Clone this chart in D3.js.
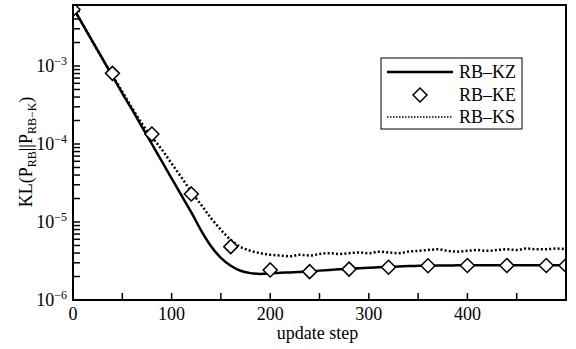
<!DOCTYPE html>
<html>
<head>
<meta charset="utf-8">
<script src="https://cdn.jsdelivr.net/npm/d3@7"></script>
<style>
  body { margin: 0; background: #fff; }
  svg { display: block; font-family: "Liberation Serif", "Times New Roman", serif; }
</style>
</head>
<body>
<div id="chart"></div>
<script>
// update steps for the two curves
const steps = [0, 10, 20, 30, 40, 50, 60, 70, 80, 90, 100, 110, 120, 130, 140, 150, 160, 170, 180, 190,
  200, 210, 220, 230, 240, 250, 260, 270, 280, 290, 300, 310, 320, 330, 340, 350, 360, 370, 380, 390,
  400, 410, 420, 430, 440, 450, 460, 470, 480, 490, 500];

// RB-KZ (solid)
const kzValues = [5.62e-3, 3.39e-3, 2.04e-3, 1.23e-3, 7.41e-4, 4.47e-4, 2.75e-4, 1.66e-4, 1.0e-4, 6.03e-5,
  3.63e-5, 2.19e-5, 1.33e-5, 7.76e-6, 4.90e-6, 3.47e-6, 2.75e-6, 2.37e-6, 2.21e-6, 2.16e-6,
  2.19e-6, 2.24e-6, 2.26e-6, 2.29e-6, 2.32e-6, 2.38e-6, 2.43e-6, 2.47e-6, 2.51e-6, 2.56e-6,
  2.60e-6, 2.63e-6, 2.66e-6, 2.69e-6, 2.72e-6, 2.74e-6, 2.75e-6, 2.76e-6, 2.77e-6, 2.78e-6,
  2.79e-6, 2.79e-6, 2.79e-6, 2.79e-6, 2.79e-6, 2.79e-6, 2.79e-6, 2.79e-6, 2.79e-6, 2.79e-6, 2.79e-6];

// RB-KS (dotted)
const ksValues = [5.62e-3, 3.39e-3, 2.04e-3, 1.23e-3, 7.59e-4, 4.68e-4, 2.88e-4, 1.82e-4, 1.23e-4, 8.51e-5,
  5.62e-5, 3.72e-5, 2.45e-5, 1.66e-5, 1.12e-5, 7.94e-6, 5.89e-6, 4.79e-6, 4.27e-6, 3.98e-6,
  3.80e-6, 3.72e-6, 3.63e-6, 3.80e-6, 3.72e-6, 3.89e-6, 3.98e-6, 3.89e-6, 3.98e-6, 4.07e-6,
  3.98e-6, 4.17e-6, 4.07e-6, 3.98e-6, 4.17e-6, 4.27e-6, 4.37e-6, 4.47e-6, 4.27e-6, 4.17e-6,
  4.27e-6, 4.37e-6, 4.27e-6, 4.37e-6, 4.47e-6, 4.37e-6, 4.57e-6, 4.47e-6, 4.47e-6, 4.57e-6, 4.47e-6];

// RB-KE (diamond markers)
const keSteps = [0, 40, 80, 120, 160, 200, 240, 280, 320, 360, 400, 440, 480, 500];
const keValues = [5.3e-3, 8.05e-4, 1.34e-4, 2.29e-5, 4.83e-6, 2.43e-6, 2.31e-6, 2.49e-6, 2.63e-6,
  2.75e-6, 2.77e-6, 2.77e-6, 2.77e-6, 2.77e-6];

const xTicks = [0, 100, 200, 300, 400];
const xMinorTicks = [50, 150, 250, 350, 450];
const yDecades = [-6, -5, -4, -3];
const legendLabels = ["RB\u2013KZ", "RB\u2013KE", "RB\u2013KS"];

const width = 576, height = 349;
const margin = { top: 5, right: 10, bottom: 49, left: 73 };
const innerW = width - margin.left - margin.right;
const innerH = height - margin.top - margin.bottom;

const svg = d3.select("#chart").append("svg")
  .attr("width", width)
  .attr("height", height);

const x = d3.scaleLinear().domain([0, 500]).range([0, innerW]);
const y = d3.scaleLog().domain([1e-6, Math.pow(10, -2.218)]).range([innerH, 0]);

const g = svg.append("g")
  .attr("transform", "translate(" + margin.left + "," + margin.top + ")");

g.append("clipPath").attr("id", "plot-clip")
  .append("rect").attr("width", innerW).attr("height", innerH);

// ticks on the inside of left and bottom axes
const tickLen = 7;
xTicks.concat(xMinorTicks).forEach(t => {
  g.append("line")
    .attr("x1", x(t)).attr("x2", x(t))
    .attr("y1", innerH).attr("y2", innerH - tickLen)
    .attr("stroke", "black").attr("stroke-width", 1.5);
});
yDecades.forEach(dec => {
  for (let m = 1; m <= 9; m++) {
    const v = m * Math.pow(10, dec);
    if (v > y.domain()[1]) break;
    g.append("line")
      .attr("x1", 0).attr("x2", tickLen)
      .attr("y1", y(v)).attr("y2", y(v))
      .attr("stroke", "black").attr("stroke-width", 1.5);
  }
});

// tick labels
xTicks.forEach(t => {
  g.append("text")
    .attr("x", x(t)).attr("y", innerH + 20)
    .attr("text-anchor", "middle")
    .attr("font-size", 18)
    .text(t);
});
yDecades.forEach(dec => {
  const t = g.append("text")
    .attr("x", -6).attr("y", y(Math.pow(10, dec)) + 6)
    .attr("text-anchor", "end")
    .attr("font-size", 18);
  t.append("tspan").text("10");
  t.append("tspan").attr("font-size", 12).attr("dy", -7).text("\u2212" + Math.abs(dec));
});

// axis titles
svg.append("text")
  .attr("x", margin.left + x(250) - 2).attr("y", 339)
  .attr("text-anchor", "middle")
  .attr("font-size", 18)
  .text("update step");

const yt = svg.append("text")
  .attr("transform", "translate(32,152) rotate(-90)")
  .attr("text-anchor", "middle")
  .attr("font-size", 18);
yt.append("tspan").text("KL(P");
yt.append("tspan").attr("font-size", 12).attr("dy", 4).text("RB");
yt.append("tspan").attr("dy", -4).text("||P");
yt.append("tspan").attr("font-size", 12).attr("dy", 4).text("RB\u2212K");
yt.append("tspan").attr("dy", -4).text(")");

// series
const plot = g.append("g").attr("clip-path", "url(#plot-clip)");

const line = d3.line()
  .x((d, i) => x(steps[i]))
  .y(d => y(d))
  .curve(d3.curveMonotoneX);

plot.append("path")
  .datum(ksValues)
  .attr("d", line)
  .attr("fill", "none")
  .attr("stroke", "black")
  .attr("stroke-width", 2.5)
  .attr("stroke-dasharray", "2,2.2");

plot.append("path")
  .datum(kzValues)
  .attr("d", line)
  .attr("fill", "none")
  .attr("stroke", "black")
  .attr("stroke-width", 2.5);

const diamond = "M0,-7L7,0L0,7L-7,0Z";
plot.selectAll("path.ke")
  .data(keValues)
  .enter()
  .append("path")
  .attr("class", "ke")
  .attr("d", diamond)
  .attr("transform", (d, i) => "translate(" + x(keSteps[i]) + "," + y(d) + ")")
  .attr("fill", "white")
  .attr("stroke", "black")
  .attr("stroke-width", 1.5);

// frame
g.append("rect")
  .attr("width", innerW).attr("height", innerH)
  .attr("fill", "none")
  .attr("stroke", "black")
  .attr("stroke-width", 2);

// legend
const lg = svg.append("g").attr("transform", "translate(381,58)");
lg.append("rect")
  .attr("width", 141).attr("height", 71)
  .attr("fill", "white")
  .attr("stroke", "black")
  .attr("stroke-width", 1);
const rowY = [14, 37, 59];
lg.append("line").attr("x1", 6).attr("x2", 72).attr("y1", rowY[0]).attr("y2", rowY[0])
  .attr("stroke", "black").attr("stroke-width", 2.5);
lg.append("path").attr("d", diamond)
  .attr("transform", "translate(39," + rowY[1] + ")")
  .attr("fill", "white").attr("stroke", "black").attr("stroke-width", 1.5);
lg.append("line").attr("x1", 6).attr("x2", 72).attr("y1", rowY[2]).attr("y2", rowY[2])
  .attr("stroke", "black").attr("stroke-width", 1.5).attr("stroke-dasharray", "1.5,1.5");
legendLabels.forEach((l, i) => {
  lg.append("text")
    .attr("x", 78).attr("y", rowY[i] + 6)
    .attr("font-size", 18)
    .text(l);
});
</script>
</body>
</html>
